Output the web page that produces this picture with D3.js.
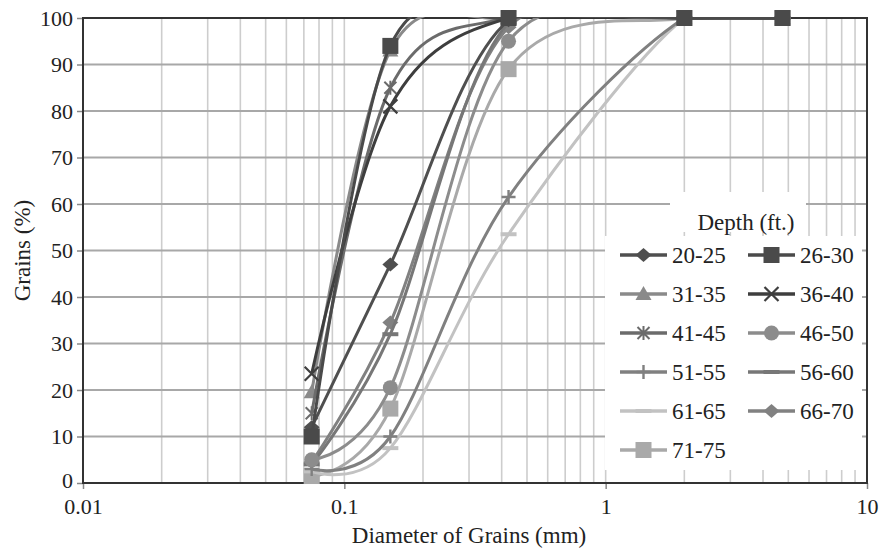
<!DOCTYPE html>
<html><head><meta charset="utf-8">
<script src="https://cdn.jsdelivr.net/npm/d3@7/dist/d3.min.js"></script>
<style>body{margin:0;background:#fff}svg{display:block}text{font-family:"Liberation Serif","Times New Roman",serif;fill:#222}</style>
</head><body><svg id="c" width="881" height="548"></svg>
<script>
// ---- data ----
const sieveSizes = [0.075, 0.15, 0.425, 2, 4.75];
const depthLabels = ["20-25","26-30","31-35","36-40","41-45","46-50","51-55","56-60","61-65","66-70","71-75"];
const pass20_25 = [12, 47, 99.5, 100, 100];
const pass26_30 = [10, 94, 100, 100, 100];
const pass31_35 = [19.5, 93, 100, 100, 100];
const pass36_40 = [23.5, 81, 100, 100, 100];
const pass41_45 = [15, 85, 100, 100, 100];
const pass46_50 = [5, 20.5, 95, 100, 100];
const pass51_55 = [3, 10, 61.5, 100, 100];
const pass56_60 = [4, 32, 99, 100, 100];
const pass61_65 = [2.5, 7.5, 53.5, 100, 100];
const pass66_70 = [4.5, 34.5, 98, 100, 100];
const pass71_75 = [1.5, 16, 89, 100, 100];
const xTicks = [0.01, 0.1, 1, 10];
const yTicks = [0,10,20,30,40,50,60,70,80,90,100];

const seriesValues = [pass20_25,pass26_30,pass31_35,pass36_40,pass41_45,pass46_50,pass51_55,pass56_60,pass61_65,pass66_70,pass71_75];
const seriesColors = ["#4f4f4f","#4a4a4a","#8a8a8a","#3e3e3e","#6b6b6b","#8c8c8c","#808080","#777777","#c2c2c2","#818181","#a9a9a9"];
const seriesMarkers = ["diamond","square","triangle","x","star","circle","plus","dash","dash","diamond","square"];

// ---- layout ----
const svg = d3.select("#c");
const L = 83, R = 867, T = 18, B = 483;
const x = d3.scaleLog().domain([0.01, 10]).range([L, R]);
const y = d3.scaleLinear().domain([0, 100]).range([B, T]);

// minor vertical grid
const minor = [];
for (let e = -2; e < 1; e++) for (let m = 1; m <= 9; m++) minor.push(m * Math.pow(10, e));
minor.push(10);
svg.append("g").selectAll("line").data(minor).join("line")
  .attr("x1", d => x(d)).attr("x2", d => x(d)).attr("y1", T).attr("y2", B)
  .attr("stroke", "#cdcdcd").attr("stroke-width", 1.6);
svg.append("g").selectAll("line").data(yTicks).join("line")
  .attr("x1", L).attr("x2", R).attr("y1", d => y(d)).attr("y2", d => y(d))
  .attr("stroke", "#a8a8a8").attr("stroke-width", 2);

// axes
const yAxis = svg.append("g").attr("transform", `translate(${L},0)`)
  .call(d3.axisLeft(y).tickValues(yTicks).tickSize(6).tickPadding(4).tickFormat(d3.format("d")));
const xAxis = svg.append("g").attr("transform", `translate(0,${B})`)
  .call(d3.axisBottom(x).tickValues(xTicks).tickSize(6).tickPadding(9).tickFormat(d => String(d)));
[yAxis, xAxis].forEach(a => {
  a.select(".domain").remove();
  a.selectAll(".tick line").attr("stroke", "#888").attr("stroke-width", 1.5);
  a.selectAll("text").attr("font-size", 22).attr("fill", "#222").attr("font-family", "Liberation Serif");
});
yAxis.selectAll(".tick").filter(d => d === 0).select("text").attr("dy", "0.2em");
// frame
svg.append("rect").attr("x", L).attr("y", T).attr("width", R - L).attr("height", B - T)
  .attr("fill", "none").attr("stroke", "#333").attr("stroke-width", 2);

// titles
svg.append("text").attr("x", (L + R) / 2 - 6).attr("y", 543).attr("text-anchor", "middle")
  .attr("font-size", 23).text("Diameter of Grains (mm)");
svg.append("text").attr("transform", `translate(30,${(T + B) / 2}) rotate(-90)`).attr("text-anchor", "middle")
  .attr("font-size", 23).text("Grains (%)");

// clip
svg.append("clipPath").attr("id", "pc").append("rect").attr("x", L).attr("y", T - 1).attr("width", R - L).attr("height", B - T + 1);

const line = d3.line().x(d => x(d[0])).y(d => y(d[1])).curve(d3.curveCardinal.tension(0));

function marker(g, type, color, cx, cy) {
  const s = 8;
  if (type === "square") g.append("rect").attr("x", cx - s).attr("y", cy - s).attr("width", 2 * s).attr("height", 2 * s).attr("fill", color);
  else if (type === "diamond") g.append("path").attr("d", `M${cx},${cy - 7}L${cx + 8},${cy}L${cx},${cy + 7}L${cx - 8},${cy}Z`).attr("fill", color);
  else if (type === "triangle") g.append("path").attr("d", `M${cx},${cy - 8}L${cx + 8},${cy + 6}L${cx - 8},${cy + 6}Z`).attr("fill", color);
  else if (type === "circle") g.append("circle").attr("cx", cx).attr("cy", cy).attr("r", 7.5).attr("fill", color);
  else if (type === "x") g.append("path").attr("d", `M${cx - 7},${cy - 7}L${cx + 7},${cy + 7}M${cx - 7},${cy + 7}L${cx + 7},${cy - 7}`).attr("stroke", color).attr("stroke-width", 2.2);
  else if (type === "star") g.append("path").attr("d", `M${cx - 6},${cy - 6}L${cx + 6},${cy + 6}M${cx - 6},${cy + 6}L${cx + 6},${cy - 6}M${cx},${cy - 7}L${cx},${cy + 7}`).attr("stroke", color).attr("stroke-width", 2);
  else if (type === "plus") g.append("path").attr("d", `M${cx - 7},${cy}L${cx + 7},${cy}M${cx},${cy - 7}L${cx},${cy + 7}`).attr("stroke", color).attr("stroke-width", 2.4);
  else if (type === "dash") g.append("path").attr("d", `M${cx - 8},${cy}L${cx + 8},${cy}`).attr("stroke", color).attr("stroke-width", 4);
}

// draw series (light series underneath, dark on top)
const order = [10, 8, 6, 9, 7, 5, 2, 4, 0, 3, 1];
order.forEach(i => {
  const pts = sieveSizes.map((s, k) => [s, seriesValues[i][k]]);
  const g = svg.append("g");
  g.append("path").attr("d", line(pts)).attr("fill", "none").attr("stroke", seriesColors[i])
    .attr("stroke-width", 3).attr("clip-path", "url(#pc)");
  pts.forEach(p => marker(g, seriesMarkers[i], seriesColors[i], x(p[0]), y(p[1])));
});

// legend
const lg = svg.append("g");
lg.append("rect").attr("x", 670).attr("y", 192).attr("width", 136).attr("height", 40).attr("fill", "#fff");
lg.append("rect").attr("x", 605).attr("y", 236).attr("width", 257).attr("height", 234).attr("fill", "#fff");
lg.append("text").attr("x", 746).attr("y", 230).attr("text-anchor", "middle").attr("font-size", 23).text("Depth (ft.)");
const rowY = [255, 294, 333, 372, 411, 450];
depthLabels.forEach((lab, i) => {
  const col = i % 2, row = Math.floor(i / 2);
  const x0 = col === 0 ? 620 : 748, yy = rowY[row];
  const g = lg.append("g");
  g.append("line").attr("x1", x0).attr("x2", x0 + 47).attr("y1", yy).attr("y2", yy)
    .attr("stroke", seriesColors[i]).attr("stroke-width", 3.5);
  marker(g, seriesMarkers[i], seriesColors[i], x0 + 23.5, yy);
  g.append("text").attr("x", x0 + 52).attr("y", yy + 8).attr("font-size", 23).text(lab);
});
</script></body></html>
